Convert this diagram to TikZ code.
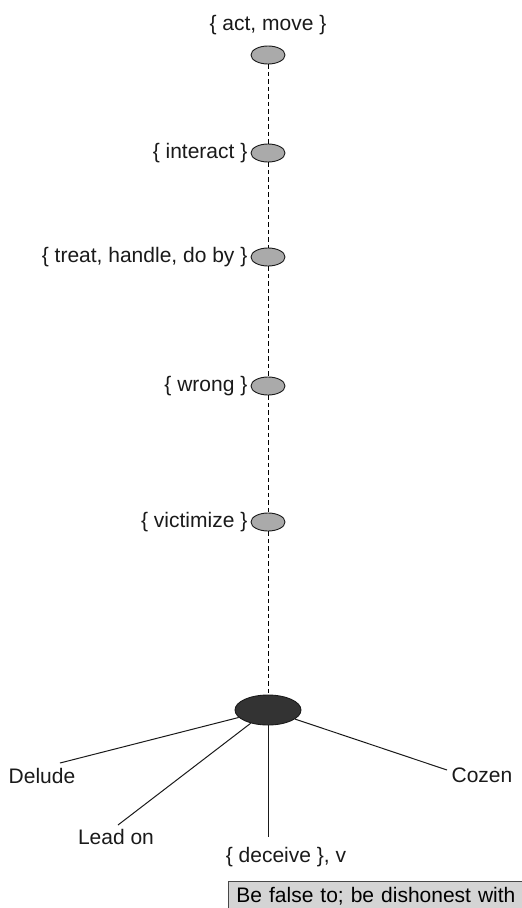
\documentclass[tikz,border=0pt]{standalone}
\usepackage{fontspec}
\setmainfont{Liberation Sans}
\usetikzlibrary{shapes.geometric}
\definecolor{ink}{HTML}{1A1A1A}
\definecolor{ellfill}{HTML}{AAAAAA}
\definecolor{corefill}{HTML}{333333}
\definecolor{boxfill}{HTML}{D4D4D4}
\tikzset{
  lbl/.style={font=\fontsize{21}{24}\selectfont, text=ink, inner sep=0pt, text height=15pt, text depth=4pt},
  synset/.style={ellipse, draw=ink, line width=0.9pt, fill=ellfill, minimum width=34pt, minimum height=18pt, inner sep=0pt},
  core/.style={ellipse, draw=ink, line width=0.9pt, fill=corefill, minimum width=66pt, minimum height=30pt, inner sep=0pt},
  hyper/.style={draw=black, line width=1.0pt, dash pattern=on 4.5pt off 3pt},
  spoke/.style={draw=ink, line width=1.0pt},
  gloss/.style={draw=ink!80, line width=0.9pt, fill=boxfill, anchor=north west, inner xsep=8pt, inner ysep=6.5pt, text width=280pt, align=left, font=\fontsize{21}{24}\selectfont, text height=15pt, text depth=4pt}
}
\begin{document}
\begin{tikzpicture}[x=1pt,y=-1pt]
\useasboundingbox (0,0) rectangle (522,908);
\clip (0,0) rectangle (522,908);
\fill[white] (0,0) rectangle (522,908);
% synset nodes
\node[synset] (s1) at (268,55) {};
\node[synset] (s2) at (268,153) {};
\node[synset] (s3) at (268,257) {};
\node[synset] (s4) at (268,386) {};
\node[synset] (s5) at (268,522) {};
\node[core] (c) at (268,710) {};
% dashed hypernym chain
\draw[hyper] (s1) -- (s2);
\draw[hyper] (s2) -- (s3);
\draw[hyper] (s3) -- (s4);
\draw[hyper] (s4) -- (s5);
\draw[hyper] (s5) -- (c);
% labels
\node[lbl] (t1) at (268,25) {\{ act, move \}};
\node[lbl, anchor=east] (t2) at ([xshift=-3pt]s2.west) {\{ interact \}};
\node[lbl, anchor=east] (t3) at ([xshift=-3pt]s3.west) {\{ treat, handle, do by \}};
\node[lbl, anchor=east] (t4) at ([xshift=-3pt]s4.west) {\{ wrong \}};
\node[lbl, anchor=east] (t5) at ([xshift=-3pt]s5.west) {\{ victimize \}};
% spokes
\coordinate (pd) at (60,763);
\coordinate (pl) at (118,825);
\coordinate (pv) at (268,837);
\coordinate (pc) at (447,770);
\draw[spoke] (c) -- (pd);
\draw[spoke] (c) -- (pl);
\draw[spoke] (c) -- (pv);
\draw[spoke] (c) -- (pc);
\node[lbl] (delude) at (42,778) {Delude};
\node[lbl] (leadon) at (116,839) {Lead on};
\node[lbl] (cozen) at (482,777) {Cozen};
\node[lbl] (deceive) at (286,857) {\{ deceive \}, v};
\node[gloss] (g) at (228,881) {Be false to; be dishonest with};
\end{tikzpicture}
\end{document}
